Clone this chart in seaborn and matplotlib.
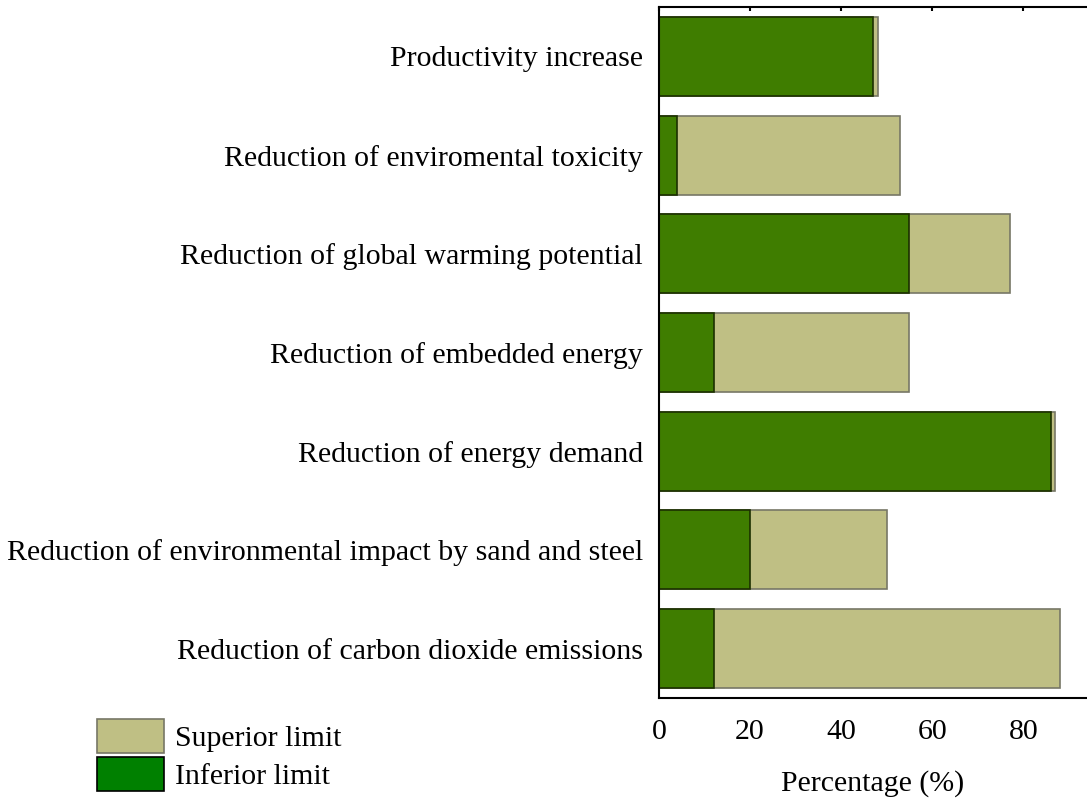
import numpy as np
import pandas as pd
import matplotlib
matplotlib.use("Agg")
import matplotlib.pyplot as plt
import seaborn as sns
from matplotlib.patches import Patch

categories = [
    "Productivity increase",
    "Reduction of enviromental toxicity",
    "Reduction of global warming potential",
    "Reduction of embedded energy",
    "Reduction of energy demand",
    "Reduction of environmental impact by sand and steel",
    "Reduction of carbon dioxide emissions",
]
superior = [48, 53, 77, 55, 87, 50, 88]
inferior = [47, 4, 55, 12, 86, 20, 12]

df = pd.DataFrame({"Category": categories, "Superior": superior, "Inferior": inferior})

sns.set_style("white")
plt.rcParams["font.family"] = ["Liberation Serif", "DejaVu Serif"]
plt.rcParams["text.color"] = "black"
plt.rcParams["axes.labelcolor"] = "black"
plt.rcParams["xtick.color"] = "black"
plt.rcParams["ytick.color"] = "black"

fig = plt.figure(figsize=(10.87, 8.02), dpi=100)
ax = fig.add_axes([659 / 1087, 1 - 698 / 802, 1 - 659 / 1087, (698 - 7) / 802])

sns.barplot(data=df, y="Category", x="Superior", orient="h", color="#bfbf84",
            edgecolor="#777766", linewidth=1.2, width=0.8, saturation=1, ax=ax)
sns.barplot(data=df, y="Category", x="Inferior", orient="h", color="#3f7d00",
            edgecolor="#1c3000", linewidth=1.2, width=0.8, saturation=1, ax=ax)

ax.set_xlim(0, 94)
ax.set_xticks([0, 20, 40, 60, 80])
ax.set_ylabel("")
ax.set_xlabel("Percentage (%)", fontsize=21.5, labelpad=18)
ax.tick_params(axis="x", labelsize=21.5, length=10, width=1.5, direction="out",
               top=True, pad=5)
ax.tick_params(axis="y", labelsize=21.5, length=0, pad=11.5)
for side in ["left", "bottom", "top"]:
    ax.spines[side].set_visible(True)
    ax.spines[side].set_color("black")
    ax.spines[side].set_linewidth(1.5)
ax.spines["right"].set_visible(False)

# top ticks drawn short and inward
for t in ax.xaxis.get_major_ticks():
    t.tick2line.set_markersize(3)
    t.tick2line.set_marker(3)

handles = [
    Patch(facecolor="#bfbf84", edgecolor="#777766", linewidth=1.2, label="Superior limit"),
    Patch(facecolor="#008000", edgecolor="black", linewidth=1.2, label="Inferior limit"),
]
fig.legend(handles=handles, loc="lower left", bbox_to_anchor=(97 / 1087, 11 / 802),
           frameon=False, fontsize=21.5, handlelength=2.25, handleheight=1.35,
           handletextpad=0.35, labelspacing=0.15, borderpad=0, borderaxespad=0)

plt.savefig("out.png", dpi=100)
